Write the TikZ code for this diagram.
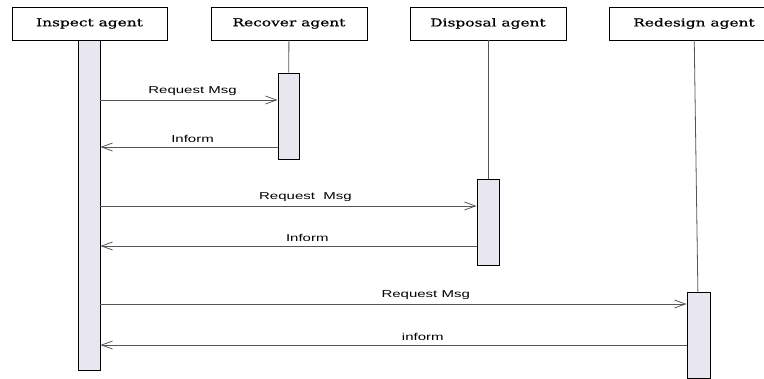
\documentclass[tikz,border=0pt]{standalone}
\usepackage{fontspec}
\usepackage{tikz}
\usetikzlibrary{arrows.meta}
\newfontfamily\agentfont[FakeStretch=1.4,FakeBold=0.6]{DejaVu Serif}
\newfontfamily\msgfont[FakeStretch=1.5]{Liberation Sans}
\definecolor{barfill}{HTML}{E8E6EE}
\definecolor{wire}{HTML}{555555}
\tikzstyle{agent}=[draw=black,thick,minimum height=33pt,font=\agentfont\fontsize{11}{13}\selectfont,inner sep=0pt]
\tikzstyle{activation}=[draw=black,thick,fill=barfill,minimum width=21pt,inner sep=0pt]
\tikzstyle{lifeline}=[draw=wire,thick]
\tikzstyle{msg}=[draw=wire,thick,-{Straight Barb[length=11pt,width=8pt]}]
\tikzstyle{msglabel}=[font=\msgfont\fontsize{10}{12}\selectfont,inner sep=1pt,above=3pt]

\begin{document}
\begin{tikzpicture}[x=1pt,y=-1pt]
    \useasboundingbox (0,0) rectangle (764,379);
    % agents
    \node[agent,minimum width=155pt] (inspect) at (89.5,23.5) {Inspect agent};
    \node[agent,minimum width=156pt] (recover) at (289,23.5) {Recover agent};
    \node[agent,minimum width=156pt] (disposal) at (488,23.5) {Disposal agent};
    \node[agent,minimum width=170pt] (redesign) at (694,23.5) {Redesign agent};
    % activation bars
    \node[activation,minimum width=22pt,minimum height=330pt] (inspectbar) at (89,205) {};
    \node[activation,minimum height=86pt] (recoverbar) at (288.5,116) {};
    \node[activation,minimum width=22pt,minimum height=86pt] (disposalbar) at (488,222) {};
    \node[activation,minimum width=23pt,minimum height=86pt] (redesignbar) at (698.5,335) {};
    % lifelines
    \draw[lifeline] (recover) -- (recoverbar);
    \draw[lifeline] (disposal) -- (disposalbar);
    \draw[lifeline] (redesign) -- (redesignbar);
    % message levels
    \coordinate (req1) at (0,100);
    \coordinate (inf1) at (0,147);
    \coordinate (req2) at (0,206);
    \coordinate (inf2) at (0,246);
    \coordinate (req3) at (0,304);
    \coordinate (inf3) at (0,345);
    % messages
    \draw[msg] (inspectbar.east |- req1) -- node[msglabel,pos=0.52] {Request Msg} (recoverbar.west |- req1);
    \draw[msg] (recoverbar.west |- inf1) -- node[msglabel,pos=0.48] {Inform} (inspectbar.east |- inf1);
    \draw[msg] (inspectbar.east |- req2) -- node[msglabel,pos=0.545] {Request\ \ Msg} (disposalbar.west |- req2);
    \draw[msg] (disposalbar.west |- inf2) -- node[msglabel,pos=0.45] {Inform} (inspectbar.east |- inf2);
    \draw[msg] (inspectbar.east |- req3) -- node[msglabel,pos=0.555] {Request Msg} (redesignbar.west |- req3);
    \draw[msg] (redesignbar.west |- inf3) -- node[msglabel,pos=0.45] {inform} (inspectbar.east |- inf3);
\end{tikzpicture}
\end{document}
